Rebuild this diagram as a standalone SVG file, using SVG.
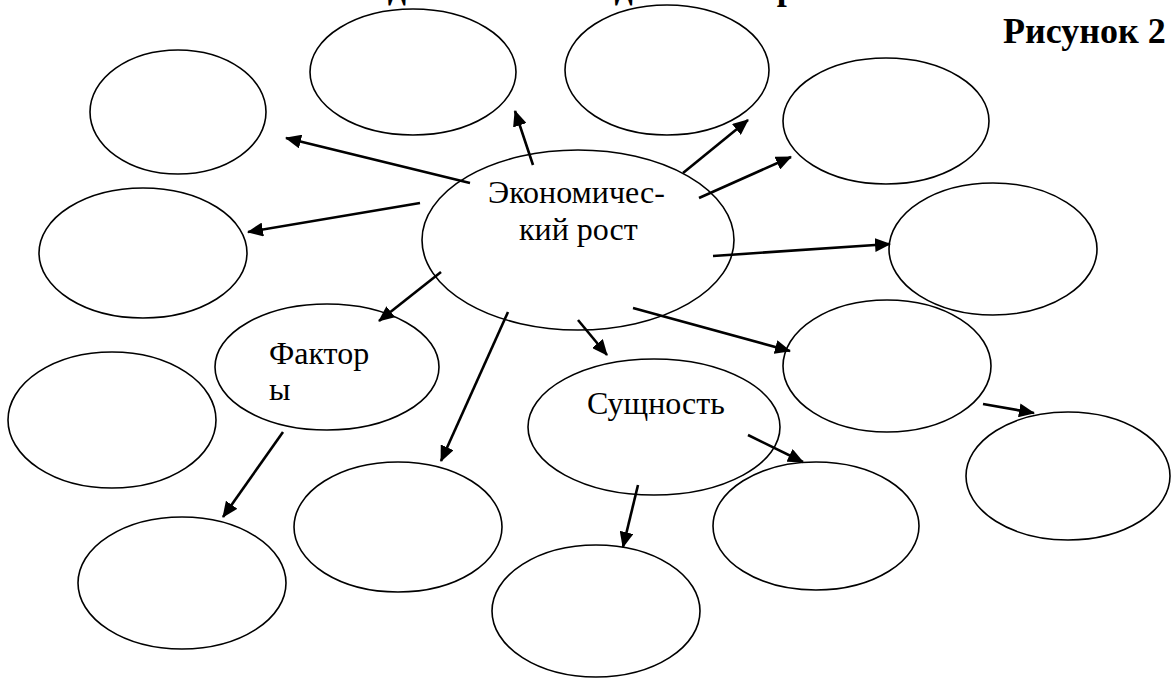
<svg xmlns="http://www.w3.org/2000/svg" width="1172" height="680" viewBox="0 0 1172 680">
<defs>
<marker id="ah" markerUnits="userSpaceOnUse" markerWidth="16" markerHeight="14" refX="15" refY="7" orient="auto">
<path d="M0,0 L16,7 L0,14 z" fill="#000"/>
</marker>
<style>
.n ellipse{fill:#fff;stroke:#000;stroke-width:1.6}
.t{font-family:"Liberation Serif","Times New Roman",serif;font-size:32px;fill:#000}
.h{font-family:"Liberation Serif","Times New Roman",serif;font-size:36px;font-weight:bold;fill:#000}
#connectors line{stroke:#000;stroke-width:2.6;marker-end:url(#ah)}
</style>
</defs>
<rect width="1172" height="680" fill="#fff"/>
<text class="h" x="350" y="-1" textLength="465">Задание 2. Метод «Кластер»</text>
<text class="h" x="1003" y="43">Рисунок 2</text>
<g id="n1" class="n"><ellipse cx="178" cy="112" rx="88" ry="62"/></g>
<g id="n2" class="n"><ellipse cx="413" cy="72" rx="103" ry="63"/></g>
<g id="n3" class="n"><ellipse cx="667" cy="70" rx="102" ry="65"/></g>
<g id="n4" class="n"><ellipse cx="886" cy="121" rx="103" ry="63"/></g>
<g id="n5" class="n"><ellipse cx="143" cy="253" rx="104" ry="65"/></g>
<g id="n7" class="n"><ellipse cx="993" cy="249" rx="104" ry="66"/></g>
<g id="n9" class="n"><ellipse cx="887" cy="366" rx="104" ry="66"/></g>
<g id="n11" class="n"><ellipse cx="112" cy="420" rx="104" ry="68"/></g>
<g id="n12" class="n"><ellipse cx="1068" cy="476" rx="102" ry="64"/></g>
<g id="n13" class="n"><ellipse cx="398" cy="527" rx="104" ry="65"/></g>
<g id="n14" class="n"><ellipse cx="816" cy="526" rx="103" ry="64"/></g>
<g id="n15" class="n"><ellipse cx="182" cy="583" rx="104" ry="66"/></g>
<g id="n16" class="n"><ellipse cx="596" cy="611" rx="104" ry="66"/></g>
<g id="factors" class="n"><ellipse cx="327" cy="367" rx="112" ry="63"/>
<text class="t" x="269" y="364">Фактор</text><text class="t" x="269" y="400">ы</text></g>
<g id="essence" class="n"><ellipse cx="654" cy="427" rx="126" ry="68"/>
<text class="t" x="587" y="414">Сущность</text></g>
<g id="center" class="n"><ellipse cx="578" cy="240" rx="156" ry="90"/>
<text class="t" x="488" y="203">Экономичес-</text><text class="t" x="519" y="240">кий рост</text></g>
<g id="connectors">
<line x1="470" y1="183" x2="286" y2="138"/>
<line x1="533" y1="165" x2="515" y2="111"/>
<line x1="683" y1="173" x2="748" y2="120"/>
<line x1="699" y1="198" x2="791" y2="157"/>
<line x1="420" y1="203" x2="248" y2="232"/>
<line x1="713" y1="256" x2="890" y2="244"/>
<line x1="441" y1="272" x2="379" y2="321"/>
<line x1="578" y1="320" x2="607" y2="355"/>
<line x1="633" y1="308" x2="790" y2="351"/>
<line x1="508" y1="312" x2="441" y2="461"/>
<line x1="283" y1="432" x2="223" y2="517"/>
<line x1="983" y1="404" x2="1034" y2="413"/>
<line x1="748" y1="435" x2="803" y2="462"/>
<line x1="638" y1="485" x2="623" y2="547"/>
</g>
</svg>
